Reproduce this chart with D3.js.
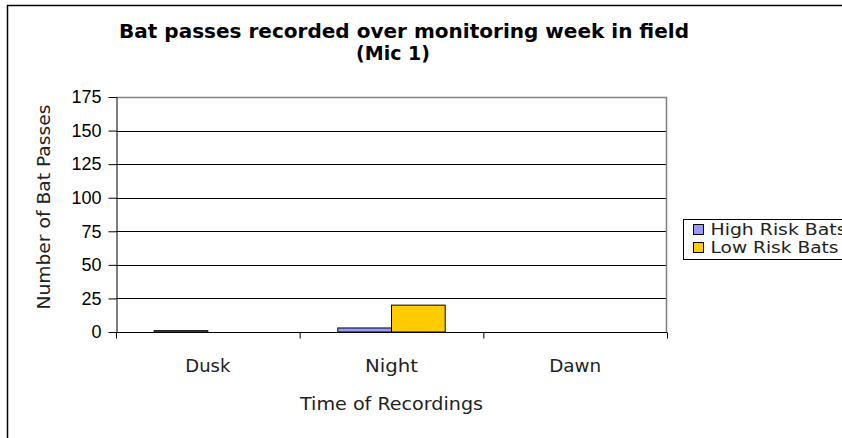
<!DOCTYPE html>
<html>
<head>
<meta charset="utf-8">
<script src="https://cdn.jsdelivr.net/npm/d3@7"></script>
<style>
  html, body { margin: 0; padding: 0; background: #fff; }
</style>
</head>
<body>
<div id="chart"></div>
<script>
// data
const categories = ["Dusk", "Night", "Dawn"];
const seriesNames = ["High Risk Bats", "Low Risk Bats"];
const highRisk = [1, 3, 0];
const lowRisk = [0, 20, 0];
const yTicks = [0, 25, 50, 75, 100, 125, 150, 175];
const colors = ["#9999ff", "#ffcc00"];

const width = 842;
const height = 438;
const margin = {top: 97, right: 175, bottom: 106, left: 116};
const labelFont = "'DejaVu Sans', sans-serif";

const svg = d3.select("#chart")
  .append("svg")
  .attr("width", width)
  .attr("height", height)
  .style("display", "block");

// outer chart frame
svg.append("rect")
  .attr("x", 7.5).attr("y", 5.5)
  .attr("width", 845).attr("height", 440)
  .attr("fill", "white")
  .attr("stroke", "#000")
  .attr("stroke-width", 1.5);

const x0 = d3.scaleBand()
  .domain(categories)
  .range([margin.left, width - margin.right]);

const x1 = d3.scaleBand()
  .domain(seriesNames)
  .range([0, x0.bandwidth()])
  .paddingOuter(0.71)
  .paddingInner(0);

const y = d3.scaleLinear()
  .domain([0, 175])
  .range([height - margin.bottom, margin.top]);

const plotL = margin.left, plotR = width - margin.right;
const plotT = margin.top, plotB = height - margin.bottom;

// gridlines
svg.append("g")
  .selectAll("line")
  .data(yTicks.filter(d => d > 0 && d < 175))
  .join("line")
  .attr("x1", plotL).attr("x2", plotR)
  .attr("y1", d => Math.round(y(d)) + 0.5)
  .attr("y2", d => Math.round(y(d)) + 0.5)
  .attr("stroke", "#000")
  .attr("stroke-width", 1);

// plot border top/right (grey)
svg.append("path")
  .attr("d", `M${plotL},${plotT + 0.5}H${plotR - 0.5}V${plotB}`)
  .attr("fill", "none")
  .attr("stroke", "#808080")
  .attr("stroke-width", 1.5);

// bars
const rows = categories.map((c, i) => ({cat: c, values: [highRisk[i], lowRisk[i]]}));
svg.append("g")
  .selectAll("g")
  .data(rows)
  .join("g")
  .attr("transform", d => `translate(${x0(d.cat)},0)`)
  .selectAll("rect")
  .data(d => d.values.map((v, j) => ({name: seriesNames[j], v, j})).filter(e => e.v > 0))
  .join("rect")
  .attr("x", d => x1(d.name))
  .attr("y", d => y(d.v))
  .attr("width", x1.bandwidth())
  .attr("height", d => y(0) - y(d.v))
  .attr("fill", d => colors[d.j])
  .attr("stroke", "#000")
  .attr("stroke-width", 1);

// y axis
const yAxis = svg.append("g")
  .attr("transform", `translate(${plotL + 0.5},0)`)
  .call(d3.axisLeft(y).tickValues(yTicks).tickSize(8).tickSizeOuter(0).tickPadding(7));
yAxis.select(".domain").attr("stroke", "#000");
yAxis.selectAll(".tick line").attr("stroke", "#000");
yAxis.selectAll("text")
  .attr("font-family", "'Liberation Sans', Arial, sans-serif")
  .attr("font-size", 18)
  .attr("fill", "#000");

// x axis
const catWidths = {Dusk: 45, Night: 53, Dawn: 52};
const xAxis = svg.append("g")
  .attr("transform", `translate(0,${plotB + 0.5})`);
xAxis.append("line")
  .attr("x1", plotL - 6).attr("x2", plotR)
  .attr("stroke", "#000");
xAxis.selectAll("line.tk")
  .data(categories.map(c => x0(c)).concat([plotR]))
  .join("line")
  .attr("class", "tk")
  .attr("x1", d => d + 0.5).attr("x2", d => d + 0.5)
  .attr("y1", 0).attr("y2", 6)
  .attr("stroke", "#000");
xAxis.selectAll("text")
  .data(categories)
  .join("text")
  .attr("x", d => x0(d) + x0.bandwidth() / 2)
  .attr("y", 39)
  .attr("text-anchor", "middle")
  .attr("font-family", labelFont)
  .attr("font-size", 17)
  .attr("textLength", d => catWidths[d])
  .attr("lengthAdjust", "spacingAndGlyphs")
  .attr("fill", "#222")
  .text(d => d);

// axis titles
svg.append("text")
  .attr("x", (plotL + plotR) / 2)
  .attr("y", 410)
  .attr("text-anchor", "middle")
  .attr("font-family", labelFont)
  .attr("font-size", 18)
  .attr("textLength", 183)
  .attr("lengthAdjust", "spacingAndGlyphs")
  .attr("fill", "#222")
  .text("Time of Recordings");

svg.append("text")
  .attr("transform", `translate(44,${207}) rotate(-90)`)
  .attr("dy", "0.35em")
  .attr("text-anchor", "middle")
  .attr("font-family", labelFont)
  .attr("font-size", 18)
  .attr("textLength", 205)
  .attr("lengthAdjust", "spacingAndGlyphs")
  .attr("fill", "#222")
  .text("Number of Bat Passes");

// title
const title = svg.append("text")
  .attr("text-anchor", "middle")
  .attr("font-family", labelFont)
  .attr("font-weight", "bold")
  .attr("font-size", 19)
  .attr("fill", "#000");
title.append("tspan").attr("x", 404).attr("y", 38)
  .attr("textLength", 570).attr("lengthAdjust", "spacingAndGlyphs")
  .text("Bat passes recorded over monitoring week in field");
title.append("tspan").attr("x", 393).attr("y", 60)
  .text("(Mic 1)");

// legend
const legend = svg.append("g").attr("transform", "translate(683.5,219.5)");
legend.append("rect")
  .attr("width", 170).attr("height", 40)
  .attr("fill", "white")
  .attr("stroke", "#000");
const items = legend.selectAll("g.item")
  .data(seriesNames)
  .join("g")
  .attr("class", "item")
  .attr("transform", (d, i) => `translate(10,${10 + i * 18})`);
items.append("rect")
  .attr("width", 10).attr("height", 10)
  .attr("y", -5)
  .attr("fill", (d, i) => colors[i])
  .attr("stroke", "#000");
items.append("text")
  .attr("x", 17)
  .attr("y", 5.5)
  .attr("font-family", labelFont)
  .attr("font-size", 15)
  .attr("textLength", (d, i) => i === 0 ? 136 : 128)
  .attr("lengthAdjust", "spacingAndGlyphs")
  .attr("fill", "#222")
  .text(d => d);
</script>
</body>
</html>
